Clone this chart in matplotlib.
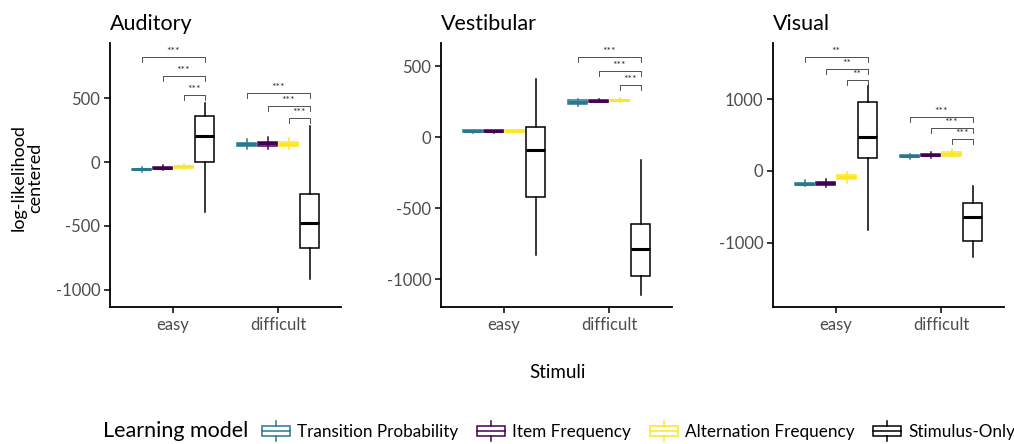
import matplotlib
matplotlib.use("Agg")
import matplotlib.pyplot as plt
from matplotlib.patches import Rectangle, Patch
from matplotlib.lines import Line2D
from matplotlib.legend_handler import HandlerBase

plt.rcParams['font.family'] = ['Lato', 'DejaVu Sans']

# ---------------- data ----------------
stimuli = ["easy", "difficult"]
models = ["Transition Probability", "Item Frequency", "Alternation Frequency", "Stimulus-Only"]
model_colors = ["#2A788E", "#440154", "#FDE725", "#000000"]
panels = ["Auditory", "Vestibular", "Visual"]

# per panel: [stimulus][model]
auditory_med = [[-58, -47, -35, 206], [140, 145, 142, -477]]
auditory_q1 = [[-66, -55, -44, -3], [125, 125, 125, -674]]
auditory_q3 = [[-52, -40, -28, 362], [152, 160, 157, -247]]
auditory_lo = [[-75, -66, -55, -391], [100, 101, 105, -914]]
auditory_hi = [[-38, -22, -14, 461], [177, 193, 185, 279]]

vestibular_med = [[40, 42, 42, -92], [245, 255, 258, -791]]
vestibular_q1 = [[33, 36, 36, -425], [232, 250, 252, -979]]
vestibular_q3 = [[47, 48, 48, 73], [258, 262, 263, -613]]
vestibular_lo = [[25, 30, 32, -831], [215, 245, 245, -1113]]
vestibular_hi = [[50, 52, 52, 408], [268, 265, 275, -162]]

visual_med = [[-181, -172, -80, 470], [205, 222, 237, -637]]
visual_q1 = [[-200, -200, -110, 186], [192, 205, 210, -977]]
visual_q3 = [[-165, -150, -50, 967], [218, 238, 262, -442]]
visual_lo = [[-210, -225, -165, -823], [165, 185, 190, -1195]]
visual_hi = [[-130, -110, -15, 1191], [235, 262, 300, -209]]

# significance brackets: (panel, stimulus index, from model index, y level, label); all end at Stimulus-Only
sig_panel = [0, 0, 0, 0, 0, 0, 1, 1, 1, 2, 2, 2, 2, 2, 2]
sig_stim = [0, 0, 0, 1, 1, 1, 1, 1, 1, 0, 0, 0, 1, 1, 1]
sig_from = [0, 1, 2, 0, 1, 2, 0, 1, 2, 0, 1, 2, 0, 1, 2]
sig_y = [820, 672, 523, 539, 437, 344, 563, 465, 366, 1590, 1423, 1270, 753, 600, 446]
sig_label = ["***"] * 9 + ["**"] * 3 + ["***"] * 3

ylims = [(-1133, 930), (-1197, 662), (-1897, 1785)]
yticks = [[-1000, -500, 0, 500], [-1000, -500, 0, 500], [-1000, 0, 1000]]

panel_stats = [
    (auditory_med, auditory_q1, auditory_q3, auditory_lo, auditory_hi),
    (vestibular_med, vestibular_q1, vestibular_q3, vestibular_lo, vestibular_hi),
    (visual_med, visual_q1, visual_q3, visual_lo, visual_hi),
]

# ---------------- layout ----------------
W, H = 1014, 444
fig = plt.figure(figsize=(W / 100, H / 100), dpi=100)
lefts = [110, 441, 773]
ax_w = 231
ax_top, ax_bot = 43, 307

offsets = [-0.3, -0.1, 0.1, 0.3]
box_w = 0.19
tick_col = "#4D4D4D"

axes = []
for p, name in enumerate(panels):
    ax = fig.add_axes([lefts[p] / W, 1 - ax_bot / H, ax_w / W, (ax_bot - ax_top) / H])
    axes.append(ax)
    med, q1, q3, lo, hi = panel_stats[p]
    for s in range(len(stimuli)):
        for m in range(len(models)):
            st = [dict(med=med[s][m], q1=q1[s][m], q3=q3[s][m],
                       whislo=lo[s][m], whishi=hi[s][m])]
            c = model_colors[m]
            ax.bxp(st, positions=[s + 1 + offsets[m]], widths=box_w,
                   patch_artist=True, showfliers=False, showcaps=False,
                   boxprops=dict(facecolor="white", edgecolor=c, linewidth=1.1),
                   medianprops=dict(color=c, linewidth=2.2, solid_capstyle="butt"),
                   whiskerprops=dict(color=c, linewidth=1.1),
                   manage_ticks=False, zorder=3)
    lo_y, hi_y = ylims[p]
    ax.set_ylim(lo_y, hi_y)
    ax.set_xlim(0.4, 2.6)
    ax.set_xticks([1, 2])
    ax.set_xticklabels(stimuli)
    ax.set_yticks(yticks[p])
    ax.set_yticklabels([str(v) for v in yticks[p]])
    for sp in ["top", "right"]:
        ax.spines[sp].set_visible(False)
    for sp in ["left", "bottom"]:
        ax.spines[sp].set_linewidth(1.3)
        ax.spines[sp].set_color("black")
    ax.tick_params(axis="both", length=4, width=1.1, color="black",
                   labelcolor=tick_col, labelsize=12, pad=3)
    ax.set_title(name, loc="left", fontsize=15.5, pad=9, color="black")

    rng = hi_y - lo_y
    tick_len = rng * 5 / (ax_bot - ax_top)
    txt_off = rng * 1.0 / (ax_bot - ax_top)
    for i in range(len(sig_y)):
        if sig_panel[i] != p:
            continue
        s = sig_stim[i]
        x0 = s + 1 + offsets[sig_from[i]]
        x1 = s + 1 + offsets[3]
        y = sig_y[i]
        ax.plot([x0, x0, x1, x1], [y - tick_len, y, y, y - tick_len],
                color="#333333", linewidth=0.6, zorder=2)
        ax.text((x0 + x1) / 2, y + txt_off, sig_label[i], ha="center", va="bottom",
                fontsize=7.5, color="#333333")

fig.text(27 / W, 1 - 178 / H, "log-likelihood\ncentered", rotation=90,
         ha="center", va="center", fontsize=13, linespacing=1.0)
fig.text(558 / W, 1 - 372 / H, "Stimuli", ha="center", va="center", fontsize=13.5)

# ---------------- legend ----------------
class BoxHandler(HandlerBase):
    def create_artists(self, legend, orig_handle, xdescent, ydescent, width, height,
                       fontsize, trans):
        c = orig_handle.get_edgecolor()
        cx = -xdescent + width / 2
        y0 = -ydescent
        rect = Rectangle((-xdescent, y0 + height * 0.25), width, height * 0.5,
                         facecolor="white", edgecolor=c, linewidth=1.1, transform=trans)
        med_l = Line2D([-xdescent, -xdescent + width], [y0 + height * 0.5] * 2,
                       color=c, linewidth=1.1, transform=trans)
        w1 = Line2D([cx, cx], [y0, y0 + height * 0.25], color=c, linewidth=1.1, transform=trans)
        w2 = Line2D([cx, cx], [y0 + height * 0.75, y0 + height], color=c, linewidth=1.1,
                    transform=trans)
        return [rect, med_l, w1, w2]

fig.text(103 / W, 1 - 431 / H, "Learning model", ha="left", va="center", fontsize=15.5)
handles = [Patch(facecolor="white", edgecolor=c) for c in model_colors]
fig.legend(handles, models, handler_map={Patch: BoxHandler()}, loc="center left",
           bbox_to_anchor=(262 / W, 1 - 431 / H), ncol=4, frameon=False,
           fontsize=12.3, handlelength=1.65, handleheight=1.5, handletextpad=0.4,
           columnspacing=1.1, borderaxespad=0, borderpad=0)

fig.savefig("out.png", dpi=100)
